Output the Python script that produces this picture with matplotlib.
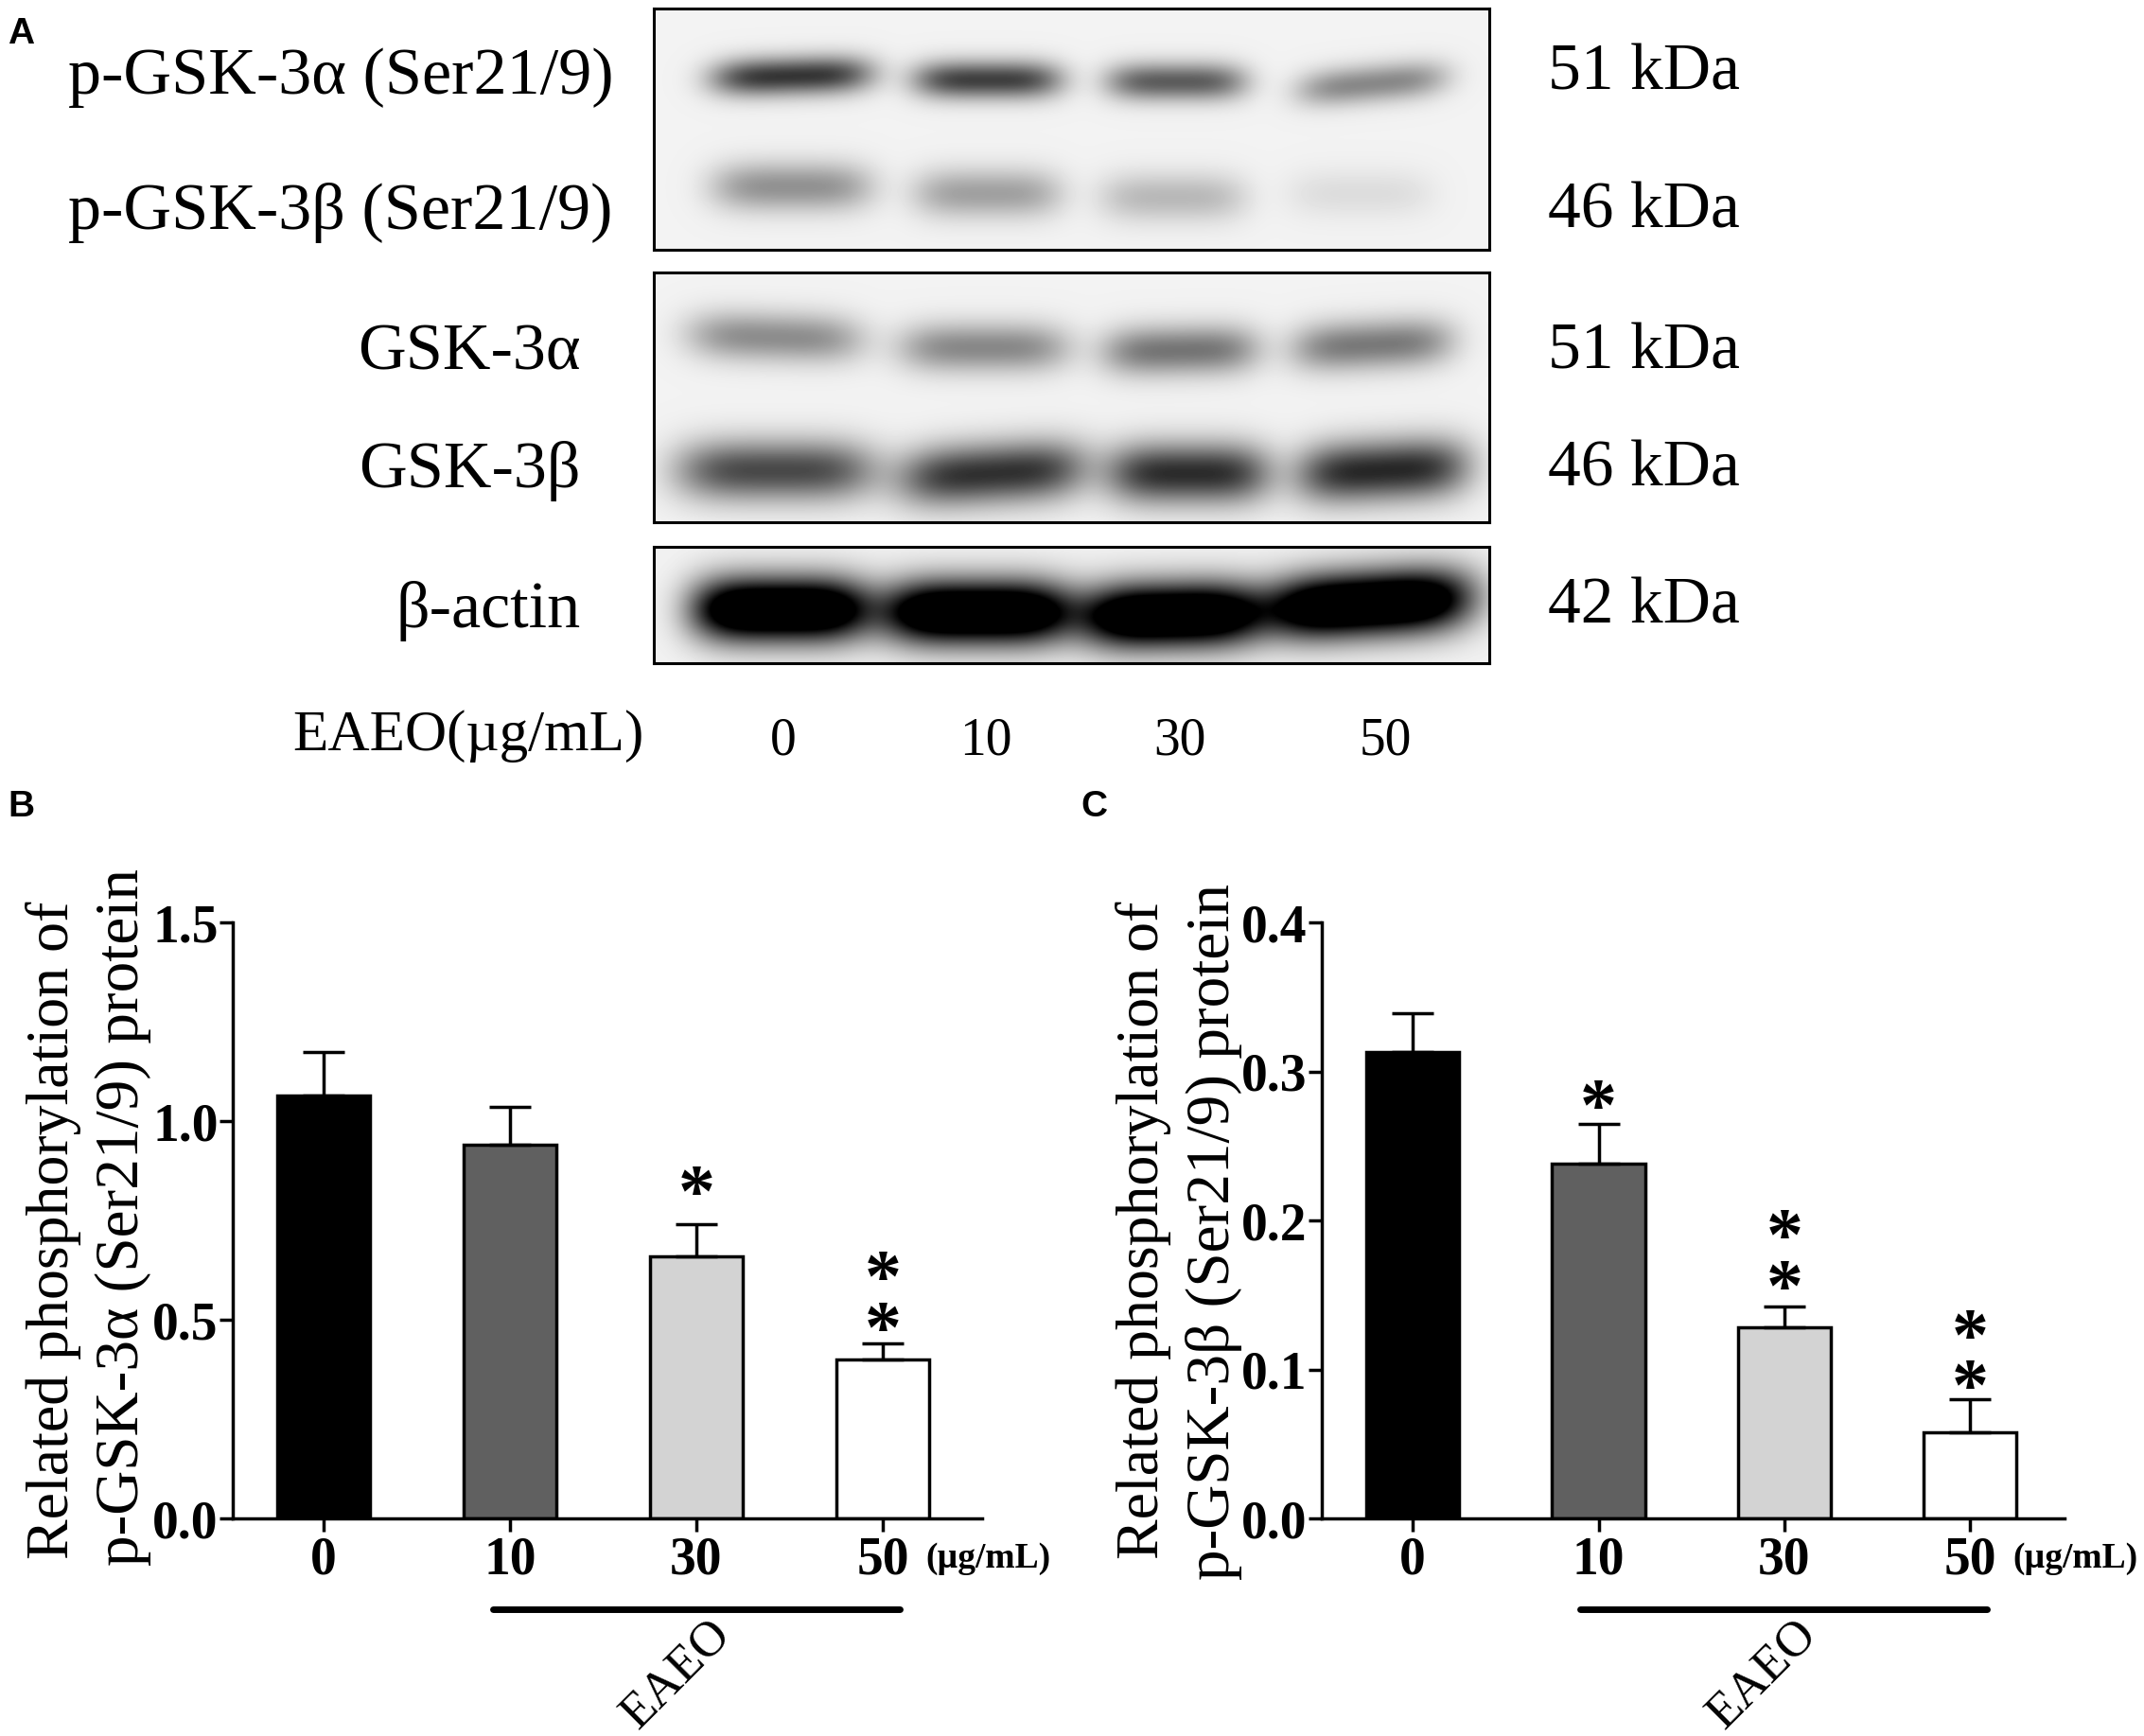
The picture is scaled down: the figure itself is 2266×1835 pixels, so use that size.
import numpy as np
import matplotlib
matplotlib.use('Agg')
import matplotlib.pyplot as plt

plt.rcParams['font.family'] = ['Liberation Serif', 'DejaVu Serif']

W, H = 2266, 1835

# bar chart values
doses = ['0', '10', '30', '50']
bar_colors = ['#000000', '#606060', '#d3d3d3', '#ffffff']
alpha_vals = [1.065, 0.94, 0.66, 0.40]
alpha_err = [0.11, 0.095, 0.08, 0.04]
beta_vals = [0.313, 0.238, 0.128, 0.058]
beta_err = [0.026, 0.027, 0.014, 0.022]
alpha_ticks = [0.0, 0.5, 1.0, 1.5]
beta_ticks = [0.0, 0.1, 0.2, 0.3, 0.4]
# stars above the bars (x position, y value of the top star's line, stack)
alpha_stars = [(2, 0.83, '*'), (3, 0.615, '*\n*')]
beta_stars = [(1, 0.279, '*'), (2, 0.192, '*\n*'), (3, 0.125, '*\n*')]

# blot bands, in figure pixels: left, right, strength of each lane
pa_left = [752, 965, 1169, 1371]
pa_right = [922, 1122, 1317, 1529]
pa_y = [80, 84, 86, 88]
pa_tilt = [-0.03, 0.0, 0.0, -0.09]
pa_dark = [0.78, 0.74, 0.62, 0.44]
pb_left = [752, 965, 1162, 1360]
pb_right = [922, 1122, 1317, 1515]
pb_y = [197, 204, 208, 204]
pb_tilt = [0.0, 0.0, 0.0, 0.0]
pb_dark = [0.40, 0.34, 0.24, 0.09]
ga_left = [727, 950, 1165, 1365]
ga_right = [912, 1130, 1330, 1535]
ga_y = [356, 367, 370, 364]
ga_tilt = [0.03, 0.0, -0.02, -0.05]
ga_dark = [0.42, 0.44, 0.52, 0.50]
gb_left = [715, 950, 1170, 1370]
gb_right = [925, 1148, 1342, 1552]
gb_y = [497, 500, 500, 497]
gb_tilt = [0.0, -0.06, 0.0, -0.05]
gb_dark = [0.70, 0.80, 0.82, 0.84]
ac_left = [732, 932, 1145, 1335]
ac_right = [918, 1135, 1330, 1555]
ac_y = [644, 647, 650, 638]
ac_tilt = [0.0, 0.0, -0.02, -0.06]
ac_dark = [1.5, 1.5, 1.5, 1.5]


def band_layer(X, Y, left, right, yc, tilt, dark, half_h):
    out = np.zeros_like(X, dtype=float)
    for l, r, c, t, d in zip(left, right, yc, tilt, dark):
        mid = (l + r) / 2
        hw = (r - l) / 2
        across = np.exp(-((X - mid) / hw) ** 4)
        down = np.exp(-((Y - c - t * (X - mid)) / half_h) ** 2)
        out += d * across * down
    return out


def draw_blot(x0, x1, y0, y1, layers):
    ax = fig.add_axes([x0 / W, 1 - y1 / H, (x1 - x0) / W, (y1 - y0) / H])
    X, Y = np.meshgrid(np.arange(x0, x1), np.arange(y0, y1))
    dark = np.zeros_like(X, dtype=float)
    for lay in layers:
        dark += band_layer(X, Y, *lay)
    img = 0.95 * (1 - np.clip(dark, 0, 1))
    ax.imshow(img, cmap='gray', vmin=0, vmax=1, extent=(x0, x1, y1, y0), aspect='auto')
    ax.set_xticks([])
    ax.set_yticks([])
    for s in ax.spines.values():
        s.set_linewidth(2.2)


def draw_bars(box, xlim, ylim, vals, err, ticks, stars, tick_fmt, bracket, eaeo_x):
    ax = fig.add_axes(box)
    x = np.arange(len(vals))
    ax.bar(x, vals, width=0.5, color=bar_colors, edgecolor='black', linewidth=2.5)
    ax.errorbar(x, vals, yerr=[np.zeros(len(err)), err], fmt='none', ecolor='black',
                elinewidth=2.5, capsize=16, capthick=2.5, zorder=1)
    ax.set_xlim(*xlim)
    ax.set_ylim(*ylim)
    ax.set_yticks(ticks)
    ax.set_yticklabels([tick_fmt % t for t in ticks], fontsize=40, fontweight='bold')
    ax.set_xticks(x)
    ax.set_xticklabels(doses, fontsize=40, fontweight='bold')
    ax.tick_params(axis='both', width=2.5, length=10)
    ax.tick_params(axis='x', pad=3)
    ax.tick_params(axis='y', pad=1)
    ax.spines['top'].set_visible(False)
    ax.spines['right'].set_visible(False)
    ax.spines['left'].set_linewidth(2.5)
    ax.spines['bottom'].set_linewidth(2.5)
    # a double star is one text with two lines, anchored on its top line
    for sx, sy, st in stars:
        ax.annotate(st, (sx, sy), xytext=(0, 19), textcoords='offset points', fontsize=56,
                    fontweight='bold', ha='center', va='top', linespacing=0.68,
                    annotation_clip=False)
    # EAEO bracket under the doses
    ax.plot(bracket, [-0.152, -0.152], color='black', lw=5, solid_capstyle='round',
            transform=ax.get_xaxis_transform(), clip_on=False)
    ax.text(3.23, -0.067, '(µg/mL)', fontsize=27, fontweight='bold', va='center', ha='left',
            transform=ax.get_xaxis_transform(), clip_on=False)
    ax.text(eaeo_x, -0.262, 'EAEO', fontsize=38, rotation=45, ha='center', va='center',
            transform=ax.get_xaxis_transform(), clip_on=False)
    return ax


fig = plt.figure(figsize=(W / 100, H / 100), dpi=100, facecolor='white')

# panel A
draw_blot(691, 1574, 9, 264, [
    (pa_left, pa_right, pa_y, pa_tilt, pa_dark, 20),
    (pb_left, pb_right, pb_y, pb_tilt, pb_dark, 26),
])
draw_blot(691, 1574, 288, 552, [
    (ga_left, ga_right, ga_y, ga_tilt, ga_dark, 26),
    (gb_left, gb_right, gb_y, gb_tilt, gb_dark, 32),
])
draw_blot(691, 1574, 578, 701, [
    (ac_left, ac_right, ac_y, ac_tilt, ac_dark, 34),
])

# panels B and C
draw_bars([246 / W, 1 - 1605 / H, (1038 - 246) / W, 630 / H], (-0.487, 3.533), (0, 1.5),
          alpha_vals, alpha_err, alpha_ticks, alpha_stars, '%.1f', [0.91, 3.09], 1.89)
draw_bars([1397 / W, 1 - 1605 / H, (2182 - 1397) / W, 630 / H], (-0.49, 3.508), (0, 0.4),
          beta_vals, beta_err, beta_ticks, beta_stars, '%.1f', [0.90, 3.09], 1.88)

# all the free text sits on a figure sized overlay, in pixels
ov = fig.add_axes([0, 0, 1, 1], facecolor='none')
ov.set_xlim(0, W)
ov.set_ylim(H, 0)
ov.axis('off')

left_labels = ['p-GSK-3α (Ser21/9)', 'p-GSK-3β (Ser21/9)']
left_y = [82, 225]
for txt, y in zip(left_labels, left_y):
    ov.text(72, y, txt, fontsize=50.5, ha='left', va='center')
for txt, y in zip(['GSK-3α', 'GSK-3β', 'β-actin'], [374, 498, 646]):
    ov.text(614, y, txt, fontsize=50.5, ha='right', va='center')
for txt, y in zip(['51 kDa', '46 kDa', '51 kDa', '46 kDa', '42 kDa'], [78, 224, 373, 497, 642]):
    ov.text(1636, y, txt, fontsize=50, ha='left', va='center')
ov.text(309, 778, 'EAEO(µg/mL)', fontsize=44, ha='left', va='center')
for txt, x in zip(doses, [828, 1042, 1247, 1464]):
    ov.text(x, 783, txt, fontsize=40, ha='center', va='center')

for txt, x, y in zip('ABC', [22, 22, 1156], [36, 853, 853]):
    ov.text(x, y, txt, fontsize=28, fontweight='bold', family='Liberation Sans', ha='center', va='center')

ov.text(57, 1300, 'Related phosphorylation of', fontsize=46, rotation=90, ha='center', va='center')
ov.text(130, 1286, 'p-GSK-3α (Ser21/9) protein', fontsize=47, rotation=90, ha='center', va='center')
ov.text(1209, 1300, 'Related phosphorylation of', fontsize=46, rotation=90, ha='center', va='center')
ov.text(1283, 1302, 'p-GSK-3β (Ser21/9) protein', fontsize=47, rotation=90, ha='center', va='center')

fig.savefig('out.png', dpi=100)
